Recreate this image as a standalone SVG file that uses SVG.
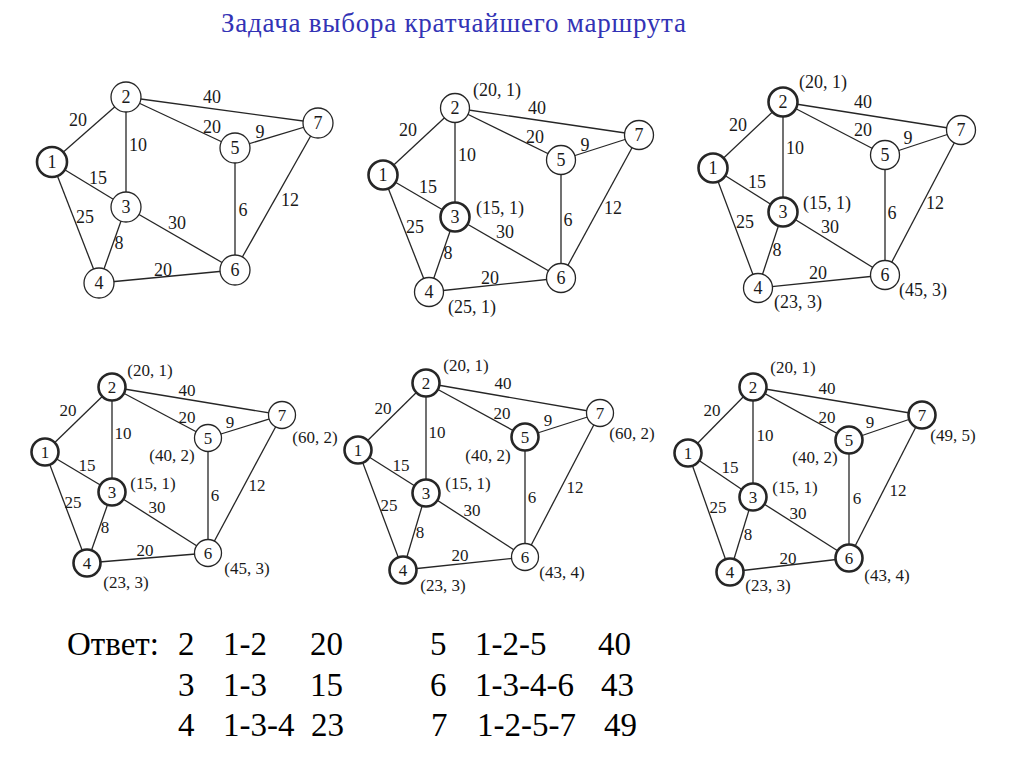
<svg xmlns="http://www.w3.org/2000/svg" width="1024" height="767" viewBox="0 0 1024 767" font-family="'Liberation Serif', 'Times New Roman', Tinos, serif">
<style>
.e{stroke:#262626;stroke-width:1.3;fill:none}
.n{fill:#fff;stroke:#262626;stroke-width:1.3}
.b{stroke-width:2.6}
.t{font-size:18px;fill:#1a1a1a;text-anchor:middle}
.s{font-size:17px}
.title{font-size:27px;fill:#3333b5}
.a{font-size:33px;fill:#000}
</style>
<rect width="1024" height="767" fill="#fff"/>
<text id="title" class="title" x="221" y="32" textLength="465">Задача выбора кратчайшего маршрута</text>

<!-- Graph 1 -->
<g id="g1">
<g id="g1-edges">
<line class="e" x1="52" y1="162" x2="126" y2="97"/>
<line class="e" x1="52" y1="162" x2="126" y2="207"/>
<line class="e" x1="52" y1="162" x2="99" y2="283"/>
<line class="e" x1="126" y1="97" x2="126" y2="207"/>
<line class="e" x1="126" y1="97" x2="235" y2="148"/>
<line class="e" x1="126" y1="97" x2="318" y2="123"/>
<line class="e" x1="126" y1="207" x2="99" y2="283"/>
<line class="e" x1="126" y1="207" x2="235" y2="270"/>
<line class="e" x1="99" y1="283" x2="235" y2="270"/>
<line class="e" x1="235" y1="148" x2="235" y2="270"/>
<line class="e" x1="235" y1="148" x2="318" y2="123"/>
<line class="e" x1="235" y1="270" x2="318" y2="123"/>
</g>
<g id="g1-labels" class="t">
<text x="78" y="126">20</text><text x="212" y="103">40</text><text x="212" y="133">20</text>
<text x="260" y="138">9</text><text x="138" y="151">10</text><text x="98" y="184">15</text>
<text x="85" y="223">25</text><text x="177" y="229">30</text><text x="243" y="216">6</text>
<text x="290" y="206">12</text><text x="119" y="249">8</text><text x="163" y="276">20</text>
</g>
<g id="g1-n1"><circle class="n b" cx="52" cy="162" r="15"/><text class="t" x="52" y="168">1</text></g>
<g id="g1-n2"><circle class="n" cx="126" cy="97" r="15"/><text class="t" x="126" y="103">2</text></g>
<g id="g1-n3"><circle class="n" cx="126" cy="207" r="15"/><text class="t" x="126" y="213">3</text></g>
<g id="g1-n4"><circle class="n" cx="99" cy="283" r="15"/><text class="t" x="99" y="289">4</text></g>
<g id="g1-n5"><circle class="n" cx="235" cy="148" r="15"/><text class="t" x="235" y="154">5</text></g>
<g id="g1-n6"><circle class="n" cx="235" cy="270" r="15"/><text class="t" x="235" y="276">6</text></g>
<g id="g1-n7"><circle class="n" cx="318" cy="123" r="15"/><text class="t" x="318" y="129">7</text></g>
</g>

<!-- Graph 2 -->
<g id="g2">
<g id="g2-edges">
<line class="e" x1="383" y1="175" x2="455" y2="108"/>
<line class="e" x1="383" y1="175" x2="455" y2="217"/>
<line class="e" x1="383" y1="175" x2="429" y2="292"/>
<line class="e" x1="455" y1="108" x2="455" y2="217"/>
<line class="e" x1="455" y1="108" x2="561" y2="160"/>
<line class="e" x1="455" y1="108" x2="639" y2="135"/>
<line class="e" x1="455" y1="217" x2="429" y2="292"/>
<line class="e" x1="455" y1="217" x2="561" y2="278"/>
<line class="e" x1="429" y1="292" x2="561" y2="278"/>
<line class="e" x1="561" y1="160" x2="561" y2="278"/>
<line class="e" x1="561" y1="160" x2="639" y2="135"/>
<line class="e" x1="561" y1="278" x2="639" y2="135"/>
</g>
<g id="g2-labels" class="t">
<text x="408" y="136">20</text><text x="537" y="114">40</text><text x="535" y="143">20</text>
<text x="585" y="151">9</text><text x="467" y="161">10</text><text x="428" y="193">15</text>
<text x="415" y="233">25</text><text x="505" y="238">30</text><text x="568" y="226">6</text>
<text x="613" y="214">12</text><text x="448" y="259">8</text><text x="490" y="284">20</text>
<text x="497" y="96">(20, 1)</text><text x="500" y="214">(15, 1)</text><text x="472" y="313">(25, 1)</text>
</g>
<g id="g2-n1"><circle class="n b" cx="383" cy="175" r="14.5"/><text class="t" x="383" y="181">1</text></g>
<g id="g2-n2"><circle class="n" cx="455" cy="108" r="14.5"/><text class="t" x="455" y="114">2</text></g>
<g id="g2-n3"><circle class="n b" cx="455" cy="217" r="14.5"/><text class="t" x="455" y="223">3</text></g>
<g id="g2-n4"><circle class="n" cx="429" cy="292" r="14.5"/><text class="t" x="429" y="298">4</text></g>
<g id="g2-n5"><circle class="n" cx="561" cy="160" r="14.5"/><text class="t" x="561" y="166">5</text></g>
<g id="g2-n6"><circle class="n" cx="561" cy="278" r="14.5"/><text class="t" x="561" y="284">6</text></g>
<g id="g2-n7"><circle class="n" cx="639" cy="135" r="14.5"/><text class="t" x="639" y="141">7</text></g>
</g>

<!-- Graph 3 -->
<g id="g3">
<g id="g3-edges">
<line class="e" x1="713" y1="168" x2="783" y2="102"/>
<line class="e" x1="713" y1="168" x2="783" y2="212"/>
<line class="e" x1="713" y1="168" x2="758" y2="288"/>
<line class="e" x1="783" y1="102" x2="783" y2="212"/>
<line class="e" x1="783" y1="102" x2="885" y2="155"/>
<line class="e" x1="783" y1="102" x2="961" y2="130"/>
<line class="e" x1="783" y1="212" x2="758" y2="288"/>
<line class="e" x1="783" y1="212" x2="885" y2="275"/>
<line class="e" x1="758" y1="288" x2="885" y2="275"/>
<line class="e" x1="885" y1="155" x2="885" y2="275"/>
<line class="e" x1="885" y1="155" x2="961" y2="130"/>
<line class="e" x1="885" y1="275" x2="961" y2="130"/>
</g>
<g id="g3-labels" class="t">
<text x="738" y="131">20</text><text x="863" y="108">40</text><text x="863" y="136">20</text>
<text x="908" y="144">9</text><text x="795" y="154">10</text><text x="757" y="188">15</text>
<text x="745" y="228">25</text><text x="830" y="233">30</text><text x="892" y="219">6</text>
<text x="935" y="209">12</text><text x="777" y="256">8</text><text x="818" y="279">20</text>
<text x="823" y="88">(20, 1)</text><text x="827" y="209">(15, 1)</text>
<text x="923" y="296">(45, 3)</text><text x="798" y="308">(23, 3)</text>
</g>
<g id="g3-n1"><circle class="n b" cx="713" cy="168" r="14.5"/><text class="t" x="713" y="174">1</text></g>
<g id="g3-n2"><circle class="n b" cx="783" cy="102" r="14.5"/><text class="t" x="783" y="108">2</text></g>
<g id="g3-n3"><circle class="n b" cx="783" cy="212" r="14.5"/><text class="t" x="783" y="218">3</text></g>
<g id="g3-n4"><circle class="n" cx="758" cy="288" r="14.5"/><text class="t" x="758" y="294">4</text></g>
<g id="g3-n5"><circle class="n" cx="885" cy="155" r="14.5"/><text class="t" x="885" y="161">5</text></g>
<g id="g3-n6"><circle class="n" cx="885" cy="275" r="14.5"/><text class="t" x="885" y="281">6</text></g>
<g id="g3-n7"><circle class="n" cx="961" cy="130" r="14.5"/><text class="t" x="961" y="136">7</text></g>
</g>

<!-- Graph 4 -->
<g id="g4">
<g id="g4-edges">
<line class="e" x1="45" y1="452" x2="112" y2="387"/>
<line class="e" x1="45" y1="452" x2="112" y2="492"/>
<line class="e" x1="45" y1="452" x2="87" y2="563"/>
<line class="e" x1="112" y1="387" x2="112" y2="492"/>
<line class="e" x1="112" y1="387" x2="208" y2="438"/>
<line class="e" x1="112" y1="387" x2="282" y2="415"/>
<line class="e" x1="112" y1="492" x2="87" y2="563"/>
<line class="e" x1="112" y1="492" x2="208" y2="553"/>
<line class="e" x1="87" y1="563" x2="208" y2="553"/>
<line class="e" x1="208" y1="438" x2="208" y2="553"/>
<line class="e" x1="208" y1="438" x2="282" y2="415"/>
<line class="e" x1="208" y1="553" x2="282" y2="415"/>
</g>
<g id="g4-labels" class="t s">
<text x="68" y="416">20</text><text x="187" y="396">40</text><text x="187" y="423">20</text>
<text x="230" y="428">9</text><text x="123" y="439">10</text><text x="87" y="471">15</text>
<text x="73" y="508">25</text><text x="157" y="513">30</text><text x="215" y="501">6</text>
<text x="257" y="491">12</text><text x="105" y="533">8</text><text x="145" y="556">20</text>
<text x="150" y="376">(20, 1)</text><text x="315" y="443">(60, 2)</text><text x="172" y="461">(40, 2)</text>
<text x="153" y="489">(15, 1)</text><text x="247" y="574">(45, 3)</text><text x="126" y="588">(23, 3)</text>
</g>
<g id="g4-n1"><circle class="n b" cx="45" cy="452" r="13.5"/><text class="t s" x="45" y="458">1</text></g>
<g id="g4-n2"><circle class="n b" cx="112" cy="387" r="13.5"/><text class="t s" x="112" y="393">2</text></g>
<g id="g4-n3"><circle class="n b" cx="112" cy="492" r="13.5"/><text class="t s" x="112" y="498">3</text></g>
<g id="g4-n4"><circle class="n b" cx="87" cy="563" r="13.5"/><text class="t s" x="87" y="569">4</text></g>
<g id="g4-n5"><circle class="n" cx="208" cy="438" r="13.5"/><text class="t s" x="208" y="444">5</text></g>
<g id="g4-n6"><circle class="n" cx="208" cy="553" r="13.5"/><text class="t s" x="208" y="559">6</text></g>
<g id="g4-n7"><circle class="n" cx="282" cy="415" r="13.5"/><text class="t s" x="282" y="421">7</text></g>
</g>

<!-- Graph 5 -->
<g id="g5">
<g id="g5-edges">
<line class="e" x1="358" y1="450" x2="426" y2="383"/>
<line class="e" x1="358" y1="450" x2="426" y2="493"/>
<line class="e" x1="358" y1="450" x2="403" y2="570"/>
<line class="e" x1="426" y1="383" x2="426" y2="493"/>
<line class="e" x1="426" y1="383" x2="525" y2="437"/>
<line class="e" x1="426" y1="383" x2="600" y2="413"/>
<line class="e" x1="426" y1="493" x2="403" y2="570"/>
<line class="e" x1="426" y1="493" x2="525" y2="557"/>
<line class="e" x1="403" y1="570" x2="525" y2="557"/>
<line class="e" x1="525" y1="437" x2="525" y2="557"/>
<line class="e" x1="525" y1="437" x2="600" y2="413"/>
<line class="e" x1="525" y1="557" x2="600" y2="413"/>
</g>
<g id="g5-labels" class="t s">
<text x="383" y="414">20</text><text x="503" y="389">40</text><text x="502" y="419">20</text>
<text x="548" y="426">9</text><text x="437" y="438">10</text><text x="401" y="471">15</text>
<text x="389" y="511">25</text><text x="472" y="516">30</text><text x="532" y="503">6</text>
<text x="575" y="493">12</text><text x="420" y="538">8</text><text x="460" y="561">20</text>
<text x="466" y="371">(20, 1)</text><text x="632" y="439">(60, 2)</text><text x="488" y="461">(40, 2)</text>
<text x="468" y="489">(15, 1)</text><text x="562" y="578">(43, 4)</text><text x="443" y="591">(23, 3)</text>
</g>
<g id="g5-n1"><circle class="n b" cx="358" cy="450" r="13.5"/><text class="t s" x="358" y="456">1</text></g>
<g id="g5-n2"><circle class="n b" cx="426" cy="383" r="13.5"/><text class="t s" x="426" y="389">2</text></g>
<g id="g5-n3"><circle class="n b" cx="426" cy="493" r="13.5"/><text class="t s" x="426" y="499">3</text></g>
<g id="g5-n4"><circle class="n b" cx="403" cy="570" r="13.5"/><text class="t s" x="403" y="576">4</text></g>
<g id="g5-n5"><circle class="n b" cx="525" cy="437" r="13.5"/><text class="t s" x="525" y="443">5</text></g>
<g id="g5-n6"><circle class="n" cx="525" cy="557" r="13.5"/><text class="t s" x="525" y="563">6</text></g>
<g id="g5-n7"><circle class="n" cx="600" cy="413" r="13.5"/><text class="t s" x="600" y="419">7</text></g>
</g>

<!-- Graph 6 -->
<g id="g6">
<g id="g6-edges">
<line class="e" x1="688" y1="453" x2="753" y2="387"/>
<line class="e" x1="688" y1="453" x2="753" y2="497"/>
<line class="e" x1="688" y1="453" x2="730" y2="572"/>
<line class="e" x1="753" y1="387" x2="753" y2="497"/>
<line class="e" x1="753" y1="387" x2="849" y2="440"/>
<line class="e" x1="753" y1="387" x2="922" y2="415"/>
<line class="e" x1="753" y1="497" x2="730" y2="572"/>
<line class="e" x1="753" y1="497" x2="849" y2="558"/>
<line class="e" x1="730" y1="572" x2="849" y2="558"/>
<line class="e" x1="849" y1="440" x2="849" y2="558"/>
<line class="e" x1="849" y1="440" x2="922" y2="415"/>
<line class="e" x1="849" y1="558" x2="922" y2="415"/>
</g>
<g id="g6-labels" class="t s">
<text x="712" y="416">20</text><text x="827" y="394">40</text><text x="827" y="423">20</text>
<text x="870" y="428">9</text><text x="765" y="441">10</text><text x="730" y="473">15</text>
<text x="718" y="513">25</text><text x="798" y="519">30</text><text x="857" y="504">6</text>
<text x="898" y="496">12</text><text x="748" y="540">8</text><text x="788" y="564">20</text>
<text x="793" y="373">(20, 1)</text><text x="953" y="441">(49, 5)</text><text x="815" y="463">(40, 2)</text>
<text x="795" y="493">(15, 1)</text><text x="887" y="581">(43, 4)</text><text x="768" y="591">(23, 3)</text>
</g>
<g id="g6-n1"><circle class="n b" cx="688" cy="453" r="13.5"/><text class="t s" x="688" y="459">1</text></g>
<g id="g6-n2"><circle class="n b" cx="753" cy="387" r="13.5"/><text class="t s" x="753" y="393">2</text></g>
<g id="g6-n3"><circle class="n b" cx="753" cy="497" r="13.5"/><text class="t s" x="753" y="503">3</text></g>
<g id="g6-n4"><circle class="n b" cx="730" cy="572" r="13.5"/><text class="t s" x="730" y="578">4</text></g>
<g id="g6-n5"><circle class="n b" cx="849" cy="440" r="13.5"/><text class="t s" x="849" y="446">5</text></g>
<g id="g6-n6"><circle class="n b" cx="849" cy="558" r="13.5"/><text class="t s" x="849" y="564">6</text></g>
<g id="g6-n7"><circle class="n b" cx="922" cy="415" r="13.5"/><text class="t s" x="922" y="421">7</text></g>
</g>

<!-- Answer -->
<g id="answer" class="a">
<text x="67" y="655">Ответ:</text>
<text x="178" y="655">2</text><text x="223" y="655">1-2</text><text x="310" y="655">20</text>
<text x="178" y="696">3</text><text x="223" y="696">1-3</text><text x="310" y="696">15</text>
<text x="178" y="736">4</text><text x="223" y="736">1-3-4</text><text x="311" y="736">23</text>
<text x="430" y="655">5</text><text x="475" y="655">1-2-5</text><text x="598" y="655">40</text>
<text x="430" y="696">6</text><text x="475" y="696">1-3-4-6</text><text x="601" y="696">43</text>
<text x="431" y="736">7</text><text x="477" y="736">1-2-5-7</text><text x="604" y="736">49</text>
</g>
</svg>
